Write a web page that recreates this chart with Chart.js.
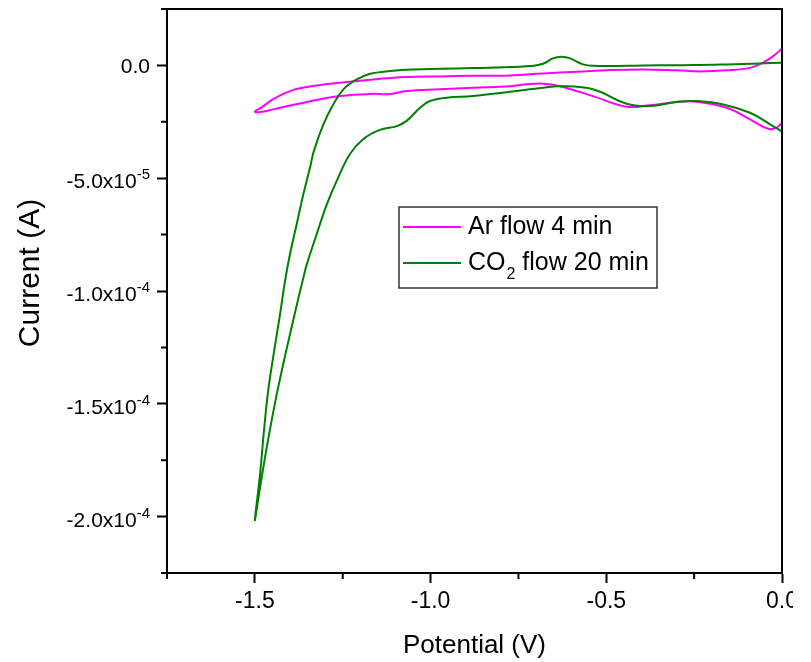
<!DOCTYPE html>
<html>
<head>
<meta charset="utf-8">
<script src="https://cdn.jsdelivr.net/npm/chart.js@4.4.0/dist/chart.umd.min.js"></script>
<style>
  html, body { margin: 0; padding: 0; background: #fff; }
  #wrap { width: 793px; height: 662px; }
</style>
</head>
<body>
<div id="wrap"><canvas id="cvChart" width="793" height="662"></canvas></div>
<script>
const seriesNames = ['Ar flow 4 min', 'CO\u2082 flow 20 min'];

// Ar loop: upper branch from 0 V to -1.5 V, then lower branch back to 0 V
const arPotential = [0.0, -0.025, -0.054, -0.091, -0.157, -0.233, -0.30, -0.395, -0.489, -0.584,
  -0.68, -0.774, -0.879, -0.973, -1.068, -1.163, -1.258, -1.352, -1.40, -1.448,
  -1.48, -1.50, -1.485, -1.448, -1.352, -1.258, -1.164, -1.121, -1.068, -0.973,
  -0.879, -0.774, -0.726, -0.68, -0.632, -0.538, -0.442, -0.376, -0.30, -0.243,
  -0.157, -0.091, -0.039, -0.015, 0.0];
const arCurrent = [7.5e-6, 4.1e-6, 1.2e-6, -1.1e-6, -2.2e-6, -2.65e-6, -2.2e-6, -1.77e-6, -2.08e-6, -2.83e-6,
  -3.54e-6, -4.43e-6, -4.6e-6, -4.87e-6, -5.18e-6, -6.2e-6, -7.7e-6, -9.6e-6, -1.14e-5, -1.5e-5,
  -1.85e-5, -2.05e-5, -2.07e-5, -1.95e-5, -1.62e-5, -1.36e-5, -1.26e-5, -1.28e-5, -1.14e-5, -1.06e-5,
  -9.9e-6, -9.2e-6, -8.4e-6, -8.1e-6, -9.2e-6, -1.36e-5, -1.83e-5, -1.77e-5, -1.62e-5, -1.61e-5,
  -1.88e-5, -2.39e-5, -2.81e-5, -2.76e-5, -2.54e-5];

// CO2 loop, same direction
const co2Potential = [0.0, -0.063, -0.157, -0.253, -0.347, -0.442, -0.538, -0.566, -0.603, -0.627,
  -0.652, -0.68, -0.717, -0.774, -0.879, -0.973, -1.068, -1.134, -1.172, -1.21,
  -1.248, -1.277, -1.305, -1.332, -1.343, -1.362, -1.381, -1.40, -1.414, -1.428,
  -1.448, -1.462, -1.474, -1.485, -1.50, -1.485, -1.466, -1.443, -1.419, -1.391,
  -1.364, -1.352, -1.324, -1.295, -1.267, -1.229, -1.191, -1.144, -1.096, -1.068,
  -1.03, -1.002, -0.954, -0.879, -0.774, -0.68, -0.632, -0.538, -0.442, -0.376,
  -0.30, -0.243, -0.167, -0.091, -0.034, 0.0];
const co2Current = [1.2e-6, 8.8e-7, 4.4e-7, 1.3e-7, 1e-7, -1.8e-7, -1.8e-7, 4.4e-7, 3.1e-6, 3.8e-6,
  3.1e-6, 7e-7, -3e-7, -7.5e-7, -1.2e-6, -1.5e-6, -1.95e-6, -2.83e-6, -3.7e-6, -6.2e-6,
  -1.06e-5, -1.73e-5, -2.61e-5, -3.79e-5, -4.53e-5, -5.71e-5, -7.04e-5, -8.36e-5, -9.54e-5, -1.1e-4,
  -1.294e-4, -1.441e-4, -1.618e-4, -1.809e-4, -2.016e-4, -1.869e-4, -1.692e-4, -1.499e-4, -1.322e-4, -1.131e-4,
  -9.54e-5, -8.81e-5, -7.48e-5, -6.15e-5, -5.12e-5, -3.92e-5, -3.26e-5, -2.86e-5, -2.69e-5, -2.46e-5,
  -1.88e-5, -1.58e-5, -1.43e-5, -1.36e-5, -1.17e-5, -9.9e-6, -9.2e-6, -1.06e-5, -1.7e-5, -1.8e-5,
  -1.62e-5, -1.58e-5, -1.73e-5, -2.1e-5, -2.61e-5, -2.94e-5];

const xTicks = [-1.5, -1.0, -0.5, 0.0];
const xTickLabels = ['-1.5', '-1.0', '-0.5', '0.0'];
const xMinorTicks = [-1.75, -1.25, -0.75, -0.25];
const yTicks = [0, -5e-5, -1e-4, -1.5e-4, -2e-4];
const yTickBase = ['0.0', '-5.0x10', '-1.0x10', '-1.5x10', '-2.0x10'];
const yTickExp = ['', '-5', '-4', '-4', '-4'];
const yMinorTicks = [2.5e-5, -2.5e-5, -7.5e-5, -1.25e-4, -1.75e-4, -2.25e-4];

const FONT = '"Liberation Sans", Arial, sans-serif';
const colors = ['#ff00ff', '#008000'];

function toPoints(xs, ys) {
    return xs.map((v, i) => ({ x: v, y: ys[i] }));
}

// frame, minor ticks, y labels with exponents, y title and legend box
const extras = {
    id: 'extras',
    afterDraw(chart) {
        const { ctx, chartArea: a, scales: { x, y } } = chart;
        ctx.save();
        ctx.strokeStyle = '#000';
        ctx.lineWidth = 2;
        ctx.strokeRect(a.left, a.top, a.right - a.left, a.bottom - a.top);

        ctx.beginPath();
        xMinorTicks.forEach(v => {
            const px = x.getPixelForValue(v);
            ctx.moveTo(px, a.bottom);
            ctx.lineTo(px, a.bottom + 6);
        });
        yMinorTicks.forEach(v => {
            const py = y.getPixelForValue(v);
            ctx.moveTo(a.left, py);
            ctx.lineTo(a.left - 6, py);
        });
        ctx.stroke();

        // y tick labels, 10^n written with a raised exponent
        ctx.fillStyle = '#000';
        ctx.textAlign = 'right';
        ctx.textBaseline = 'alphabetic';
        const right = a.left - 17;
        yTicks.forEach((v, i) => {
            const py = y.getPixelForValue(v);
            let end = right;
            if (yTickExp[i]) {
                ctx.font = '15px ' + FONT;
                ctx.fillText(yTickExp[i], end, py + 1);
                end -= ctx.measureText(yTickExp[i]).width;
                ctx.font = '21px ' + FONT;
                ctx.fillText(yTickBase[i], end, py + 10);
            } else {
                ctx.font = '21px ' + FONT;
                ctx.fillText(yTickBase[i], end, py + 8);
            }
        });

        // y axis title
        ctx.save();
        ctx.translate(31, 273);
        ctx.rotate(-Math.PI / 2);
        ctx.font = '30px ' + FONT;
        ctx.textAlign = 'center';
        ctx.textBaseline = 'middle';
        ctx.fillText('Current (A)', 0, 0);
        ctx.restore();

        // legend
        ctx.lineWidth = 1.5;
        ctx.strokeStyle = '#333';
        ctx.strokeRect(399, 207, 258, 81);
        ctx.textAlign = 'left';
        [[227, 234], [263, 270]].forEach((pos, i) => {
            ctx.strokeStyle = colors[i];
            ctx.lineWidth = 2;
            ctx.beginPath();
            ctx.moveTo(403, pos[0]);
            ctx.lineTo(461, pos[0]);
            ctx.stroke();
            const parts = seriesNames[i].split('\u2082');
            let tx = 468;
            ctx.font = '25px ' + FONT;
            ctx.fillText(parts[0], tx, pos[1]);
            tx += ctx.measureText(parts[0]).width;
            if (parts.length > 1) {
                ctx.font = '16px ' + FONT;
                ctx.fillText('2', tx + 1, pos[1] + 9);
                tx += ctx.measureText('2').width + 1;
                ctx.font = '25px ' + FONT;
                ctx.fillText(parts[1], tx, pos[1]);
            }
        });
        ctx.restore();
    }
};

new Chart(document.getElementById('cvChart'), {
    type: 'line',
    data: {
        datasets: [
            {
                label: seriesNames[0],
                data: toPoints(arPotential, arCurrent),
                borderColor: colors[0],
                borderWidth: 2,
                pointRadius: 0,
                tension: 0.4,
                fill: false,
                order: 1
            },
            {
                label: seriesNames[1],
                data: toPoints(co2Potential, co2Current),
                borderColor: colors[1],
                borderWidth: 2,
                pointRadius: 0,
                tension: 0.4,
                fill: false,
                order: 0
            }
        ]
    },
    options: {
        responsive: false,
        animation: false,
        devicePixelRatio: 1,
        layout: { padding: { top: 9, right: 11, left: 0, bottom: 0 } },
        plugins: { legend: { display: false }, tooltip: { enabled: false } },
        scales: {
            x: {
                type: 'linear',
                min: -1.75,
                max: 0,
                afterBuildTicks: s => { s.ticks = xTicks.map(v => ({ value: v })); },
                afterFit: s => { s.height = 89; s.paddingLeft = 0; s.paddingRight = 0; },
                ticks: {
                    callback: (v, i) => xTickLabels[i],
                    font: { family: FONT, size: 23 },
                    color: '#000',
                    padding: 5,
                    maxRotation: 0,
                    autoSkip: false
                },
                grid: { drawOnChartArea: false, drawTicks: true, tickLength: 10, tickWidth: 2, tickColor: '#000' },
                border: { display: true, color: '#000', width: 2 },
                title: {
                    display: true,
                    text: 'Potential (V)',
                    font: { family: FONT, size: 26 },
                    color: '#000',
                    padding: { top: 0, bottom: 1 }
                }
            },
            y: {
                type: 'linear',
                min: -2.25e-4,
                max: 2.5e-5,
                afterBuildTicks: s => { s.ticks = yTicks.map(v => ({ value: v })); },
                afterFit: s => { s.width = 167; s.paddingTop = 0; s.paddingBottom = 0; },
                ticks: {
                    // drawn by the extras plugin so the exponent can be raised
                    callback: () => '',
                    autoSkip: false
                },
                grid: { drawOnChartArea: false, drawTicks: true, tickLength: 10, tickWidth: 2, tickColor: '#000' },
                border: { display: true, color: '#000', width: 2 }
            }
        }
    },
    plugins: [extras]
});
</script>
</body>
</html>
